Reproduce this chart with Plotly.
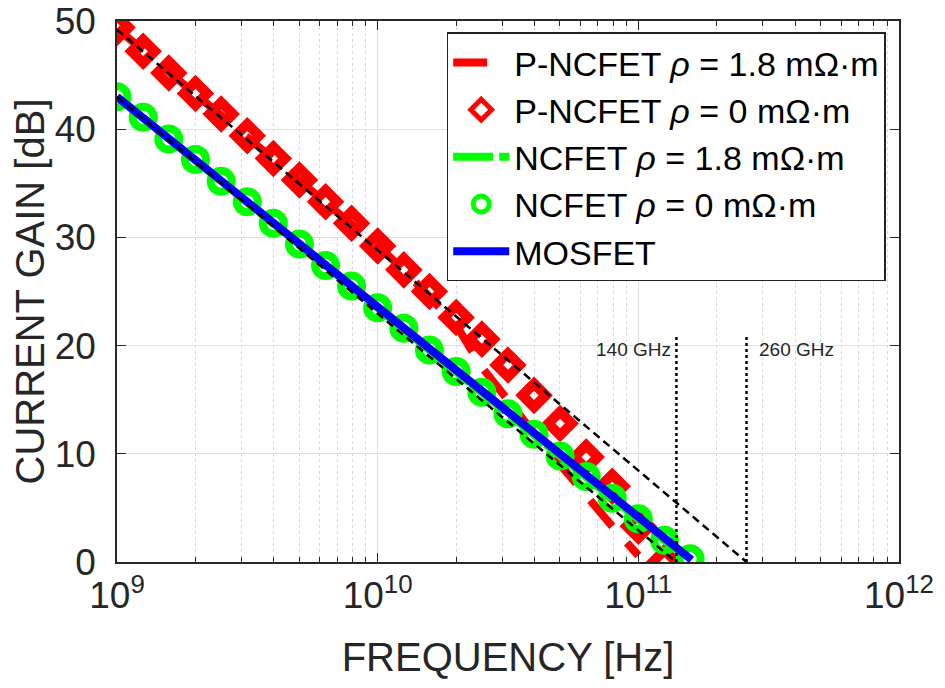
import plotly.graph_objects as go

# ---------------- data ----------------
freq_grid = [1.0e9, 1.26e9, 1.58e9, 2.0e9, 2.51e9, 3.16e9, 3.98e9, 5.01e9, 6.31e9, 7.94e9,
             1.0e10, 1.26e10, 1.58e10, 2.0e10, 2.51e10, 3.16e10, 3.98e10, 5.01e10, 6.31e10, 7.94e10,
             1.0e11, 1.26e11, 1.58e11]

# P-NCFET rho = 0 (diamonds)
pn0_freq = freq_grid[:22]
pn0_gain = [49.4, 47.2, 45.2, 43.3, 41.4, 39.4, 37.3, 35.3, 33.3, 31.3,
            29.2, 27.0, 25.0, 22.6, 20.6, 18.2, 15.4, 12.8, 9.7, 7.0, 3.3, 0.0]

# P-NCFET rho = 1.8 (red dashed line)
pn18_freq = [1.0e9, 3.16e9, 1.0e10, 1.26e10, 1.58e10, 2.0e10, 2.51e10, 3.16e10,
             3.98e10, 5.01e10, 6.31e10, 7.94e10, 1.0e11]
pn18_gain = [49.3, 39.3, 29.2, 27.0, 24.6, 21.9, 18.0, 14.8, 11.9, 9.0, 6.0, 3.3, 0.6]

# NCFET rho = 0 (circles)
nc0_freq = freq_grid
nc0_gain = [43.0, 41.1, 39.1, 37.2, 35.2, 33.3, 31.3, 29.4, 27.4, 25.5,
            23.5, 21.6, 19.6, 17.6, 15.7, 13.7, 11.8, 9.8, 7.9, 5.9, 4.0, 2.0, 0.3]

# NCFET rho = 1.8 (green dashed line)
nc18_freq = [1.0e9, 1.0e10, 1.0e11, 1.5e11]
nc18_gain = [43.0, 23.5, 4.0, 0.5]

# MOSFET (blue line)
mos_freq = [1.0e9, 1.0e10, 1.0e11, 1.6e11]
mos_gain = [43.0, 23.5, 4.0, 0.2]

# -20 dB/dec asymptotes
asym_hi_freq = [1.0e9, 2.6e11]
asym_hi_gain = [49.2, 0.0]
asym_lo_freq = [1.0e9, 1.4e11]
asym_lo_gain = [43.0, 0.0]

# cut-off markers
fT_values = [1.4e11, 2.6e11]
fT_labels = ["140 GHz", "260 GHz"]
fT_top = 20.8

x_tickvals = [1e9, 1e10, 1e11, 1e12]
x_ticktext = ["10<sup>9</sup>", "10<sup>10</sup>", "10<sup>11</sup>", "10<sup>12</sup>"]
x_minor = [m * 10 ** e for e in (9, 10, 11) for m in (2, 3, 4, 5, 6, 7, 8, 9)]
y_tickvals = [0, 10, 20, 30, 40, 50]

# ---------------- figure ----------------
FONT = "Liberation Sans, Arial, Helvetica, sans-serif"
TXT = "#262626"
RED, GREEN, BLUE = "#ff0000", "#00ff00", "#0000ff"

fig = go.Figure()

fig.add_trace(go.Scatter(x=pn18_freq, y=pn18_gain, mode="lines",
                         line=dict(color=RED, width=8, dash="34px,22px"),
                         name="P-NCFET <i>ρ</i> = 1.8 mΩ·m"))
fig.add_trace(go.Scatter(x=pn0_freq, y=pn0_gain, mode="markers",
                         marker=dict(symbol="diamond-open", color=RED, size=18,
                                     line=dict(color=RED, width=10)),
                         name="P-NCFET <i>ρ</i> = 0 mΩ·m"))
fig.add_trace(go.Scatter(x=nc18_freq, y=nc18_gain, mode="lines",
                         line=dict(color=GREEN, width=8, dash="40px,6px"),
                         name="NCFET <i>ρ</i> = 1.8 mΩ·m"))
fig.add_trace(go.Scatter(x=nc0_freq, y=nc0_gain, mode="markers",
                         marker=dict(symbol="circle-open", color=GREEN, size=21,
                                     line=dict(color=GREEN, width=8)),
                         name="NCFET <i>ρ</i> = 0 mΩ·m"))
fig.add_trace(go.Scatter(x=mos_freq, y=mos_gain, mode="lines",
                         line=dict(color=BLUE, width=8),
                         name="MOSFET"))

for fx, fy in ((asym_hi_freq, asym_hi_gain), (asym_lo_freq, asym_lo_gain)):
    fig.add_trace(go.Scatter(x=fx, y=fy, mode="lines", showlegend=False, hoverinfo="skip",
                             line=dict(color="black", width=2.5, dash="8px,5px")))

for fv in fT_values:
    fig.add_trace(go.Scatter(x=[fv, fv], y=[0, fT_top], mode="lines", showlegend=False,
                             hoverinfo="skip", line=dict(color="black", width=2.5, dash="dot")))

fig.add_annotation(x=11.146, y=19.6, xref="x", yref="y", text=fT_labels[0],
                   showarrow=False, xanchor="right", xshift=-3,
                   font=dict(family=FONT, size=19, color=TXT))
fig.add_annotation(x=11.415, y=19.6, xref="x", yref="y", text=fT_labels[1],
                   showarrow=False, xanchor="left", xshift=10,
                   font=dict(family=FONT, size=19, color=TXT))

axis_common = dict(showline=True, linecolor=TXT, linewidth=1.5, mirror="allticks",
                   ticks="inside", ticklen=9, tickwidth=1.2, tickcolor=TXT,
                   showgrid=True, gridcolor="#e0e0e0", gridwidth=1.2, zeroline=False,
                   automargin=False, ticklabeloverflow="allow",
                   tickfont=dict(family=FONT, size=37, color=TXT))

fig.update_xaxes(type="log", range=[9, 12], tickmode="array", tickvals=x_tickvals,
                 ticktext=x_ticktext,
                 title=dict(text="FREQUENCY [Hz]", font=dict(family=FONT, size=40, color=TXT),
                            standoff=28),
                 minor=dict(tickmode="array", tickvals=x_minor, ticks="inside", ticklen=5,
                            tickcolor=TXT, showgrid=True, gridcolor="#d8d8d8",
                            griddash="dot", gridwidth=1),
                 **axis_common)
fig.update_yaxes(range=[0, 50], tickmode="array", tickvals=y_tickvals,
                 title=dict(text="CURRENT GAIN [dB]", font=dict(family=FONT, size=40, color=TXT),
                            standoff=8),
                 ticklabelstandoff=12,
                 **axis_common)

fig.update_layout(
    width=937, height=680,
    margin=dict(l=109, r=46, t=13, b=126, autoexpand=False),
    paper_bgcolor="white", plot_bgcolor="white",
    font=dict(family=FONT, color=TXT),
    legend=dict(x=0.983, y=0.979, xanchor="right", yanchor="top",
                bgcolor="white", bordercolor="#222222", borderwidth=1.5,
                font=dict(family=FONT, size=34, color="black"),
                itemwidth=56, tracegroupgap=0),
)

fig.write_html("out.html")
